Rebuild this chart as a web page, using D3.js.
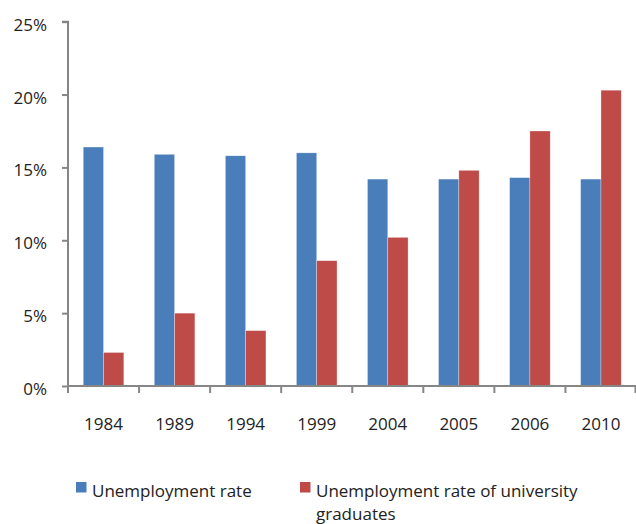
<!DOCTYPE html>
<html><head><meta charset="utf-8">
<script src="https://cdn.jsdelivr.net/npm/d3@7"></script>
<style>body{margin:0;background:#fff}svg{display:block}text{font-family:"Open Sans",sans-serif;fill:#222}</style>
</head><body><svg id="c" width="636" height="524"></svg>
<script>
const years = ["1984","1989","1994","1999","2004","2005","2006","2010"];
const unemploymentRate = [16.4,15.9,15.8,16.0,14.2,14.2,14.3,14.2];
const graduateRate = [2.3,5.0,3.8,8.6,10.2,14.8,17.5,20.3];
const yTicks = [0,5,10,15,20,25];
const seriesNames = ["Unemployment rate","Unemployment rate of university graduates"];
const colors = ["#4a7ebb","#be4b48"];

const FS = 17;
const svg = d3.select("#c");
const x = d3.scaleBand().domain(years).range([68,636.5]).paddingInner(0).paddingOuter(0);
const y = d3.scaleLinear().domain([0,25]).range([386,21.7]);
const sub = d3.scaleBand().domain([0,1]).range([0, x.bandwidth()]).paddingInner(0).paddingOuter(0.75);

// bars
const series = [unemploymentRate, graduateRate];
series.forEach((vals,si)=>{
  svg.append("g").selectAll("rect").data(years).join("rect")
    .attr("x", d=>x(d)+sub(si))
    .attr("width", sub.bandwidth())
    .attr("y", (d,i)=>y(vals[i]))
    .attr("height", (d,i)=>y(0)-y(vals[i]))
    .attr("fill", colors[si])
    .attr("stroke","rgba(255,255,255,0.5)").attr("stroke-width",0.6);
});

// y axis
const axisColor = "#868686";
const ya = svg.append("g").attr("transform","translate(68,0)")
  .call(d3.axisLeft(y).tickValues(yTicks).tickFormat(d=>d+"%").tickSize(6).tickPadding(15));
ya.select(".domain").attr("stroke",axisColor).attr("stroke-width",2).attr("d","M-6,21.7H0V386");
ya.selectAll(".tick line").attr("stroke",axisColor).attr("stroke-width",2);
ya.selectAll(".tick text").attr("font-size",FS).attr("font-family","Open Sans, sans-serif").attr("fill","#222").attr("dy","0.5em");

// x axis
const xa = svg.append("g").attr("transform","translate(0,386)");
xa.append("line").attr("x1",68).attr("x2",636.5).attr("y1",0).attr("y2",0).attr("stroke",axisColor).attr("stroke-width",2);
xa.selectAll("line.tk").data(years.map(d=>x(d)).concat([x.range()[1]-1])).join("line").attr("class","tk")
  .attr("x1",d=>d).attr("x2",d=>d).attr("y1",0).attr("y2",7).attr("stroke",axisColor).attr("stroke-width",2);
xa.selectAll("text").data(years).join("text")
  .attr("x",d=>x(d)+x.bandwidth()/2).attr("y",44).attr("text-anchor","middle").attr("font-size",FS).text(d=>d);

// legend
const lg = svg.append("g");
lg.append("rect").attr("x",76).attr("y",482).attr("width",10.5).attr("height",10.5).attr("fill",colors[0]);
lg.append("text").attr("x",92).attr("y",497).attr("font-size",FS).text(seriesNames[0]);
lg.append("rect").attr("x",300).attr("y",482).attr("width",10.5).attr("height",10.5).attr("fill",colors[1]);
const t2 = lg.append("text").attr("x",316).attr("y",497).attr("font-size",FS);
t2.append("tspan").attr("x",316).text("Unemployment rate of university");
t2.append("tspan").attr("x",316).attr("dy",23).text("graduates");
</script></body></html>
